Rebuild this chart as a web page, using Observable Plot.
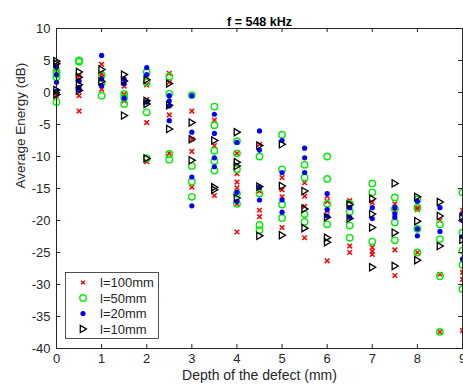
<!DOCTYPE html>
<html><head><meta charset="utf-8">
<script src="https://cdn.jsdelivr.net/npm/d3@7"></script>
<script src="https://cdn.jsdelivr.net/npm/@observablehq/plot@0.6"></script>
<style>
html,body{margin:0;padding:0;background:#fff;}
#chart{position:relative;width:463px;height:390px;overflow:hidden;}
</style></head><body><div id="chart"></div>
<script>
const depths = [0, 0.5, 1, 1.5, 2, 2.5, 3, 3.5, 4, 4.5, 5, 5.5, 6, 6.5, 7, 7.5, 8, 8.5, 9];
const xTicks = [0, 1, 2, 3, 4, 5, 6, 7, 8, 9];
const yTicks = [-40, -35, -30, -25, -20, -15, -10, -5, 0, 5, 10];
const seriesNames = ["l=100mm", "l=50mm", "l=20mm", "l=10mm"];

const l100 = [
  [4.2, 3.7, 0.0, -0.5], [2.6, 2.1, -0.5, -2.9], [4.4, 2.9, 2.4, 0.5], [1.0, -0.3, -1.3],
  [2.4, 1.2, -1.1, -4.7, -10.8], [3.0, 1.6, -3.5, -9.5], [-2.9, -7.3, -9.2, -14.8], [-4.3, -8.3, -16.1],
  [-9.5, -12.7, -14.0, -14.9, -17.4, -21.8], [-8.1, -15.4, -18.4, -19.4], [-13.3, -15.2, -16.3, -21.1],
  [-14.1, -16.2, -17.8, -22.7], [-16.2, -17.0, -18.5, -26.3], [-16.9, -18.0, -24.0, -25.0],
  [-17.2, -24.2, -24.8, -25.3], [-17.4, -18.5, -24.6, -28.6], [-18.0, -18.3, -25.0],
  [-20.0, -28.4, -37.4], [-18.4, -28.1, -29.2, -37.2]
];
const l50 = [
  [3.3, 2.9, 2.4, -1.5], [5.0, 4.8], [2.7, 1.5, -0.5], [-0.2, -0.8, -1.8],
  [3.2, 1.6, -3.1, -10.3], [2.5, -0.2, -9.6, -10.5], [-0.4, -11.5, -13.9, -16.3], [-2.2, -5.1, -9.1, -10.7, -12.2],
  [-7.6, -9.5, -12.0, -15.8, -17.4], [-10.0, -15.8, -20.7, -21.5], [-6.6, -12.0, -17.5, -19.6],
  [-11.3, -13.3, -19.0, -20.2], [-10.0, -13.5, -17.4, -20.6], [-17.4, -18.6, -20.8, -22.7],
  [-14.2, -15.6, -23.3], [-16.4, -18.2, -20.3, -23.1], [-16.7, -18.0, -21.3, -25.0],
  [-20.6, -22.9, -28.7, -37.4], [-15.6, -21.9, -24.7, -26.9, -30.7]
];
const l20 = [
  [4.0, 2.8, 1.6, 0.2], [1.8, 0.8, 0.4], [5.8, 2.1, 1.1], [2.1, 1.4, -0.9],
  [3.9, 2.8, -1.5], [-0.5, -1.3, -2.1, -4.4], [-0.5, -6.2, -13.2, -17.7], [-3.4, -6.4, -10.2, -11.6],
  [-7.8, -15.6, -17.0], [-6.0, -9.0, -14.8, -16.8], [-7.5, -12.5, -16.8, -18.7],
  [-8.7, -10.2, -12.5], [-15.8, -18.3, -19.3], [-18.0, -19.5],
  [-18.0, -19.7], [-18.0, -19.0, -19.5], [-17.0, -21.3, -22.4],
  [-18.0, -21.7], [-19.0, -20.0, -22.5, -26.0]
];
const l10 = [
  [4.9, 4.5, 0.4, -0.3], [3.2, 2.4, 1.2, 0.3], [3.6, 1.7], [2.8, 1.8, -3.6],
  [2.0, -1.3, -1.8, -10.3], [1.4, -2.0, -5.7], [-4.7, -7.3, -10.6], [-7.5, -14.8, -15.2],
  [-6.2, -10.9, -11.5, -16.5], [-8.3, -14.7, -22.4], [-8.1, -14.6, -22.3],
  [-15.4, -18.2, -21.2], [-19.5, -22.7, -23.4], [-17.5, -19.7],
  [-16.6, -19.0, -21.1, -27.3], [-14.2, -21.9, -27.1], [-16.3, -20.1, -26.2],
  [-17.1, -19.3, -24.0], [-19.5, -23.0]
];

function flatten(vals) {
  const out = [];
  depths.forEach((d, i) => vals[i].forEach(v => out.push({depth: d, energy: v})));
  return out;
}

const crossSym = {draw(ctx, size) { const r = Math.sqrt(size / Math.PI); ctx.moveTo(-r, -r); ctx.lineTo(r, r); ctx.moveTo(-r, r); ctx.lineTo(r, -r); }};
const triSym = {draw(ctx, size) { const r = Math.sqrt(size / Math.PI); ctx.moveTo(-0.75 * r, -r); ctx.lineTo(0.95 * r, 0); ctx.lineTo(-0.75 * r, r); ctx.closePath(); }};

const styles = [
  {symbol: crossSym, r: 2.3, stroke: "#ff0000", fill: "none", strokeWidth: 1.5},
  {symbol: "circle", r: 3.2, stroke: "#00ee00", fill: "none", strokeWidth: 1.4},
  {symbol: "circle", r: 2.6, stroke: "none", fill: "#0000ff", strokeWidth: 0},
  {symbol: triSym, r: 3.6, stroke: "#000000", fill: "none", strokeWidth: 1.3}
];
const seriesData = [l100, l50, l20, l10].map(flatten);

const W = 463, H = 390, mL = 56, mR = 1, mT = 28, mB = 42;
const plotH = H - mT - mB, plotW = W - mL - mR;
const tickLen = 4;
const axisColor = "#262626";

const plot = Plot.plot({
  width: W, height: H,
  marginLeft: mL, marginRight: mR, marginTop: mT, marginBottom: mB,
  style: {fontFamily: "'Liberation Sans', Arial, sans-serif", fontSize: "13px", color: axisColor, background: "white", overflow: "hidden"},
  x: {domain: [0, 9]},
  y: {domain: [-40, 10]},
  marks: [
    ...seriesData.map((data, i) => Plot.dot(data, {x: "depth", y: "energy", ...styles[i]})),
    Plot.frame({stroke: axisColor, strokeWidth: 1}),
    Plot.tickX(xTicks, {x: d => d, insetTop: plotH - tickLen, stroke: axisColor}),
    Plot.tickX(xTicks, {x: d => d, insetBottom: plotH - tickLen, stroke: axisColor}),
    Plot.tickY(yTicks, {y: d => d, insetRight: plotW - tickLen, stroke: axisColor}),
    Plot.tickY(yTicks, {y: d => d, insetLeft: plotW - tickLen, stroke: axisColor}),
    Plot.axisX({ticks: xTicks, tickSize: 0, tickPadding: 5.5, tickFormat: d => String(d), label: null, fontSize: 13}),
    Plot.axisY({ticks: yTicks, tickSize: 0, tickPadding: 6, tickFormat: d => String(d), label: null, fontSize: 13}),
    Plot.text(["Depth of the defect (mm)"], {frameAnchor: "bottom", dy: 31.5, fontSize: 14, fill: axisColor}),
    Plot.text(["Average Energy (dB)"], {frameAnchor: "left", dx: -36, rotate: -90, fontSize: 13.5, fill: axisColor}),
    Plot.text(["f = 548 kHz"], {frameAnchor: "top", dy: -11, fontSize: 12.5, fontWeight: "bold", fill: "#000"})
  ]
});

// legend inside the plot (MATLAB-style box)
const svg = d3.select(plot);
const lg = svg.append("g").attr("transform", "translate(65.5,272.5)");
lg.append("rect").attr("width", 93).attr("height", 66).attr("fill", "white").attr("stroke", axisColor).attr("stroke-width", 0.8);
const rowY = [10, 25.5, 41, 56.5];
seriesNames.forEach((name, i) => {
  const s = styles[i];
  const sym = typeof s.symbol === "string" ? d3.symbolCircle : s.symbol;
  const lr = i === 0 ? 1.8 : s.r;
  lg.append("path")
    .attr("transform", `translate(17.5,${rowY[i]})`)
    .attr("d", d3.symbol(sym, Math.PI * lr * lr)())
    .attr("fill", s.fill).attr("stroke", s.stroke).attr("stroke-width", s.strokeWidth);
  lg.append("text").attr("x", 34.5).attr("y", rowY[i]).attr("dy", "0.35em")
    .attr("text-anchor", "start")
    .attr("font-size", 13).attr("fill", axisColor).text(name);
});

document.getElementById("chart").appendChild(plot);
</script>
</body></html>
